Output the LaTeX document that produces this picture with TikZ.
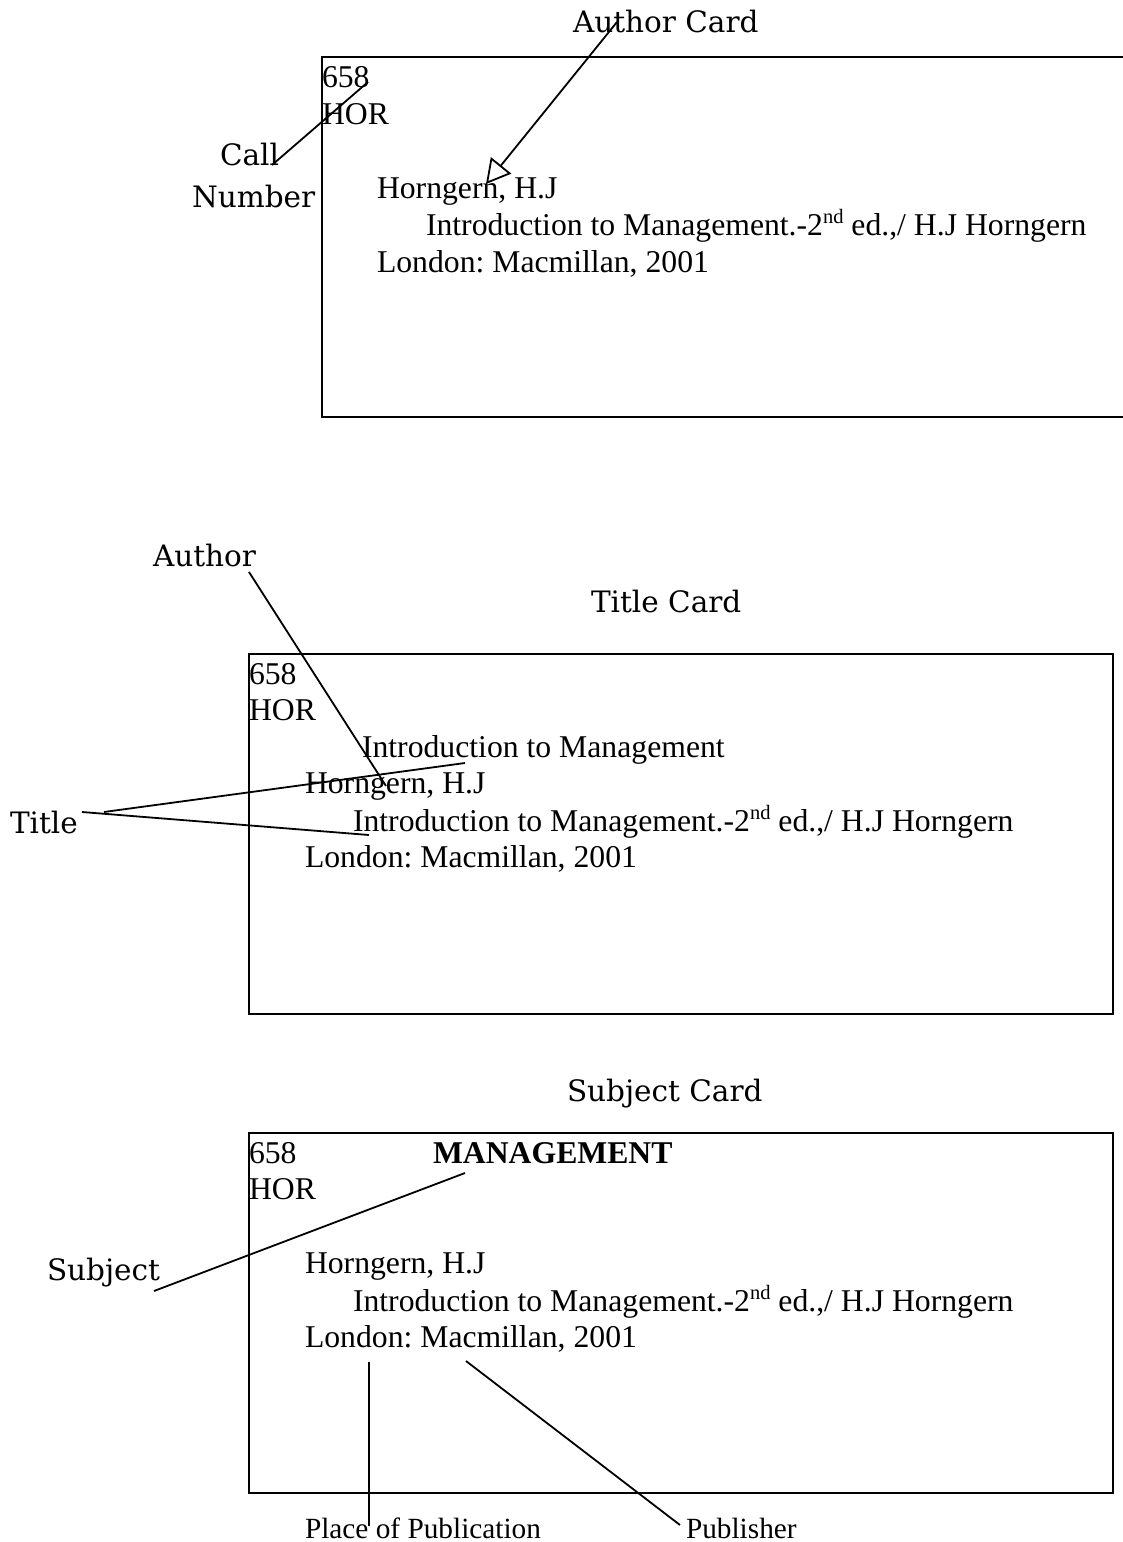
\documentclass[tikz,border=0pt]{standalone}
\usepackage{fontspec}
\setmainfont{Liberation Serif}
\newfontfamily\lblfam{DejaVu Serif}
\usetikzlibrary{arrows.meta}
\frenchspacing
\newcommand\cardfont{\fontsize{31.7}{36}\selectfont}
\newcommand\lblfont{\lblfam\fontsize{29.5}{34}\selectfont}
\newcommand\pubfont{\fontsize{29.3}{33}\selectfont}
\newcommand\supnd{\raisebox{0.36em}{\fontsize{20.5}{21}\selectfont nd}}
\tikzset{
  card/.style={line width=2.1pt},
  conn/.style={line width=1.8pt},
  ctext/.style={anchor=base west, inner sep=0pt, outer sep=0pt, font=\cardfont},
  btext/.style={ctext, font=\cardfont\bfseries},
  lbl/.style={anchor=base west, inner sep=0pt, outer sep=0pt, font=\lblfont},
  pub/.style={anchor=base west, inner sep=0pt, outer sep=0pt, font=\pubfont},
}
\begin{document}
\begin{tikzpicture}[x=1pt,y=-1pt]
\useasboundingbox[fill=white] (0,0) rectangle (1123,1542);

% ---------- Author card ----------
\node[lbl] (authorcard) at (573,32) {Author Card};
\draw[card] (1130,57) -- (322,57) -- (322,417) -- (1130,417);
\node[ctext] (a658) at (322,87) {658};
\node[ctext] (ahor) at (322,124) {HOR};
\node[ctext] (aauth) at (377,198) {Horngern, H.J};
\node[ctext] (atitle) at (426,235) {Introduction to Management.-2\supnd\ ed.,/ H.J Horngern};
\node[ctext] (apub) at (377,272) {London: Macmillan, 2001};
\node[lbl] (call) at (220,165) {Call};
\node[lbl] (number) at (192,207) {Number};
\coordinate (cnA) at (272,165);
\coordinate (cnB) at (368,82);
\draw[conn] (cnA) -- (cnB);
\coordinate (acA) at (617,22);
\coordinate (acB) at (486,184);
\draw[conn, -{Triangle[open,length=24pt,width=26pt]}] (acA) -- (acB);

% ---------- Title card ----------
\node[lbl] (titlecard) at (591,612) {Title Card};
\node[lbl] (authorlbl) at (153,566) {Author};
\node[lbl] (titlelbl) at (10,833) {Title};
\draw[card] (249,654) rectangle (1113,1014);
\node[ctext] (t658) at (249,684) {658};
\node[ctext] (thor) at (249,720) {HOR};
\node[ctext] (thead) at (362,757) {Introduction to Management};
\node[ctext] (tauth) at (305,793) {Horngern, H.J};
\node[ctext] (ttitle) at (353,831) {Introduction to Management.-2\supnd\ ed.,/ H.J Horngern};
\node[ctext] (tpub) at (305,867) {London: Macmillan, 2001};
\coordinate (auA) at (249,572);
\coordinate (auB) at (386,786);
\draw[conn] (auA) -- (auB);
\coordinate (tiA) at (104,812);
\coordinate (tiB) at (465,763);
\coordinate (tiC) at (82,812);
\coordinate (tiD) at (369,835);
\draw[conn] (tiA) -- (tiB);
\draw[conn] (tiC) -- (tiD);

% ---------- Subject card ----------
\node[lbl] (subjectcard) at (567,1101) {Subject Card};
\node[lbl] (subjectlbl) at (47,1280) {Subject};
\draw[card] (249,1133) rectangle (1113,1493);
\node[ctext] (s658) at (249,1163) {658};
\node[btext] (shead) at (433,1163) {MANAGEMENT};
\node[ctext] (shor) at (249,1199) {HOR};
\node[ctext] (sauth) at (305,1273) {Horngern, H.J};
\node[ctext] (stitle) at (353,1311) {Introduction to Management.-2\supnd\ ed.,/ H.J Horngern};
\node[ctext] (spub) at (305,1347) {London: Macmillan, 2001};
\coordinate (suA) at (154,1291);
\coordinate (suB) at (465,1173);
\draw[conn] (suA) -- (suB);
\node[pub] (place) at (305,1538) {Place of Publication};
\node[pub] (publisher) at (686,1538) {Publisher};
\coordinate (plA) at (369,1362);
\coordinate (plB) at (369,1526);
\draw[conn] (plA) -- (plB);
\coordinate (puA) at (466,1361);
\coordinate (puB) at (680,1525);
\draw[conn] (puA) -- (puB);
\end{tikzpicture}
\end{document}
